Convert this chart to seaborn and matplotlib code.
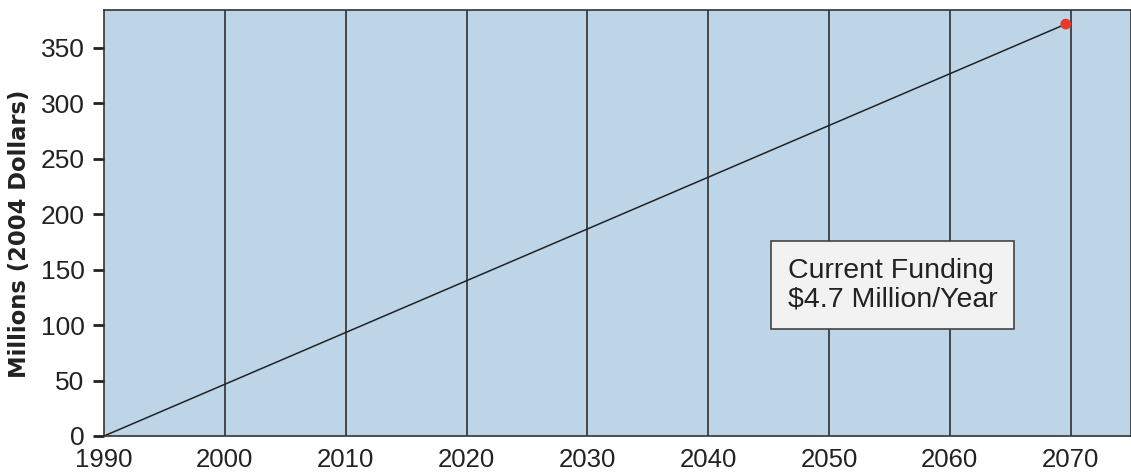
import numpy as np
import pandas as pd
import seaborn as sns
import matplotlib.pyplot as plt

# funding projection: $4.7 million per year, cumulative
years = [1990, 2069.6]
millions = [0.0, 371.3]
grid_years = [2000, 2010, 2020, 2030, 2040, 2050, 2060, 2070]
note = 'Current Funding\n$4.7 Million/Year'

df = pd.DataFrame({'year': years, 'millions': millions})

sns.set_theme(style='white')
plt.rcParams['font.family'] = ['Liberation Sans', 'DejaVu Sans']

fig = plt.figure(figsize=(11.31, 4.72), dpi=100)
ax = fig.add_axes([0.092, 0.0763, 0.908, 0.9025])
ax.set_facecolor('#bdd5e6')

for g in grid_years:
    ax.axvline(g, color='#222222', lw=1.1, zorder=1)

sns.lineplot(data=df, x='year', y='millions', color='#222222', lw=1.1, ax=ax, zorder=2)
ax.scatter([years[-1]], [millions[-1]], s=60, color='#e8392b', zorder=3, edgecolor='none')

# note box, left-aligned text
ax.text(2046.6, 136, note, fontsize=20.5, color='#222222', ha='left', va='center',
        linespacing=1.12,
        bbox=dict(boxstyle='square,pad=0.58', fc='#f2f2f2', ec='#444444', lw=1.2), zorder=4)

ax.set_xlim(1990, 2075)
ax.set_ylim(0, 384)
ax.set_xticks([1990] + grid_years)
ax.set_yticks(range(0, 351, 50))
ax.tick_params(axis='y', length=8, width=2, pad=6, labelsize=19, colors='#222222', left=True)
ax.tick_params(axis='x', length=0, pad=8.5, labelsize=18.5, colors='#222222')
ax.set_xlabel('')
ax.set_ylabel('Millions (2004 Dollars)', fontsize=16.3, fontweight='bold', color='#222222',
              family='DejaVu Sans')
ax.yaxis.set_label_coords(-0.071, 0.475)

for s in ['left', 'bottom', 'top', 'right']:
    ax.spines[s].set_color('#333333')
    ax.spines[s].set_linewidth(1.2)

fig.savefig('out.png', dpi=100)
